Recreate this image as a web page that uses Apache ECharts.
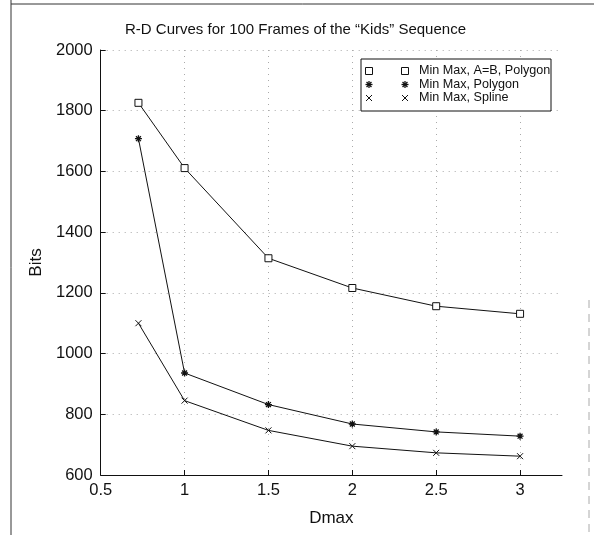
<!DOCTYPE html>
<html><head><meta charset="utf-8">
<script src="https://cdn.jsdelivr.net/npm/echarts@6/dist/echarts.min.js"></script>
<style>html,body{margin:0;padding:0;background:#fff}#c{width:594px;height:535px}</style>
</head><body><div id="c"></div>
<script>
const titleText = 'R-D Curves for 100 Frames of the \u201cKids\u201d Sequence';
const xName = 'Dmax';
const yName = 'Bits';
const dmax = [0.725, 1, 1.5, 2, 2.5, 3];
const seriesNames = ['Min Max, A=B, Polygon', 'Min Max, Polygon', 'Min Max, Spline'];
const abPolygon = [1826, 1611, 1314, 1216, 1156, 1131];
const polygon = [1708, 936, 832, 768, 742, 728];
const spline = [1100, 845, 747, 695, 673, 662];
const xTicks = [0.5, 1, 1.5, 2, 2.5, 3];
const yTicks = [600, 800, 1000, 1200, 1400, 1600, 1800, 2000];

const FONT = '"Liberation Sans", Arial, Helvetica, sans-serif';
const SYM_SQUARE = 'path://M0,0L10,0L10,10L0,10Z';
const SYM_STAR = 'path://M5,0L5,10M0,5L10,5M1.5,1.5L8.5,8.5M8.5,1.5L1.5,8.5';
const SYM_X = 'path://M0,0L10,10M10,0L0,10';
const symbols = [SYM_SQUARE, SYM_STAR, SYM_X];
const sizes = [7, 7, 6];
const values = [abPolygon, polygon, spline];

const chart = echarts.init(document.getElementById('c'), null, {renderer: 'canvas'});

const series = values.map((v, i) => ({
  name: seriesNames[i],
  type: 'line',
  data: dmax.map((x, j) => [x, v[j]]),
  symbol: symbols[i],
  symbolSize: sizes[i],
  showAllSymbol: true,
  lineStyle: {color: '#111', width: 1},
  itemStyle: {color: i === 0 ? '#fff' : '#111', borderColor: '#111', borderWidth: i === 1 ? 1.3 : 1},
  emphasis: {disabled: true},
  animation: false,
  z: 3
}));

// legend built from series names
const legX = 361, legY = 59, legW = 190, legH = 52;
const rowY = [71, 84.5, 98];
const legendEls = [{
  type: 'rect', shape: {x: legX, y: legY, width: legW, height: legH},
  style: {fill: '#fff', stroke: '#111', lineWidth: 1}, z: 10
}];
function markerEls(kind, cx, cy, s) {
  const h = s / 2;
  const st = {stroke: '#111', lineWidth: kind === 1 ? 1.3 : 1, fill: null};
  if (kind === 0) {
    return [{type: 'rect', z: 11, shape: {x: cx - h, y: cy - h, width: s, height: s}, style: {fill: '#fff', stroke: '#111', lineWidth: 1}}];
  }
  const segs = kind === 1
    ? [[0, -h, 0, h], [-h, 0, h, 0], [-h * 0.7, -h * 0.7, h * 0.7, h * 0.7], [h * 0.7, -h * 0.7, -h * 0.7, h * 0.7]]
    : [[-h, -h, h, h], [h, -h, -h, h]];
  return segs.map(g => ({type: 'line', z: 11, shape: {x1: cx + g[0], y1: cy + g[1], x2: cx + g[2], y2: cy + g[3]}, style: st}));
}
seriesNames.forEach((n, i) => {
  [369, 405].forEach(cx => {
    markerEls(i, cx, rowY[i], sizes[i]).forEach(e => legendEls.push(e));
  });
  legendEls.push({
    type: 'text', z: 11, x: 419, y: rowY[i],
    style: {text: n, fill: '#111', font: '12.6px ' + FONT, verticalAlign: 'middle'}
  });
});

const option = {
  animation: false,
  backgroundColor: '#fff',
  title: {
    text: titleText, left: 120, top: 17,
    textStyle: {fontFamily: FONT, fontSize: 15, fontWeight: 'normal', color: '#111'}
  },
  grid: {left: 100.7, right: 32, top: 50, bottom: 60, containLabel: false},
  xAxis: {
    type: 'value', min: 0.5, max: 3.25, interval: 0.5,
    name: xName, nameLocation: 'middle', nameGap: 35,
    nameTextStyle: {fontFamily: FONT, fontSize: 17, color: '#111'},
    axisLine: {show: true, lineStyle: {color: '#111', width: 1}},
    axisTick: {show: true, inside: true, length: 5, lineStyle: {color: '#111'}},
    axisLabel: {
      fontFamily: FONT, fontSize: 16.5, color: '#111', margin: 7, showMaxLabel: false,
      formatter: v => xTicks.indexOf(v) >= 0 ? String(v) : ''
    },
    splitLine: {show: true, showMinLine: false, showMaxLine: false, lineStyle: {color: '#aaa', type: [1, 5], width: 1}}
  },
  yAxis: {
    type: 'value', min: 600, max: 2000, interval: 200,
    name: yName, nameLocation: 'middle', nameGap: 52,
    nameTextStyle: {fontFamily: FONT, fontSize: 17, color: '#111'},
    axisLine: {show: true, lineStyle: {color: '#111', width: 1}},
    axisTick: {show: true, inside: true, length: 5, lineStyle: {color: '#111'}},
    axisLabel: {
      fontFamily: FONT, fontSize: 16.5, color: '#111', margin: 8,
      formatter: v => yTicks.indexOf(v) >= 0 ? String(v) : ''
    },
    splitLine: {show: true, showMinLine: false, lineStyle: {color: '#aaa', type: [1, 5], width: 1}}
  },
  series: series,
  graphic: [
    {type: 'line', shape: {x1: 11, y1: 0, x2: 11, y2: 535}, style: {stroke: '#333', lineWidth: 1}},
    {type: 'line', shape: {x1: 11, y1: 4, x2: 594, y2: 4}, style: {stroke: '#333', lineWidth: 1}},
    {type: 'line', shape: {x1: 589, y1: 300, x2: 589, y2: 535}, style: {stroke: '#aaa', lineWidth: 1, lineDash: [8, 6]}},
    {type: 'group', children: legendEls}
  ]
};
chart.setOption(option);
</script>
</body></html>
